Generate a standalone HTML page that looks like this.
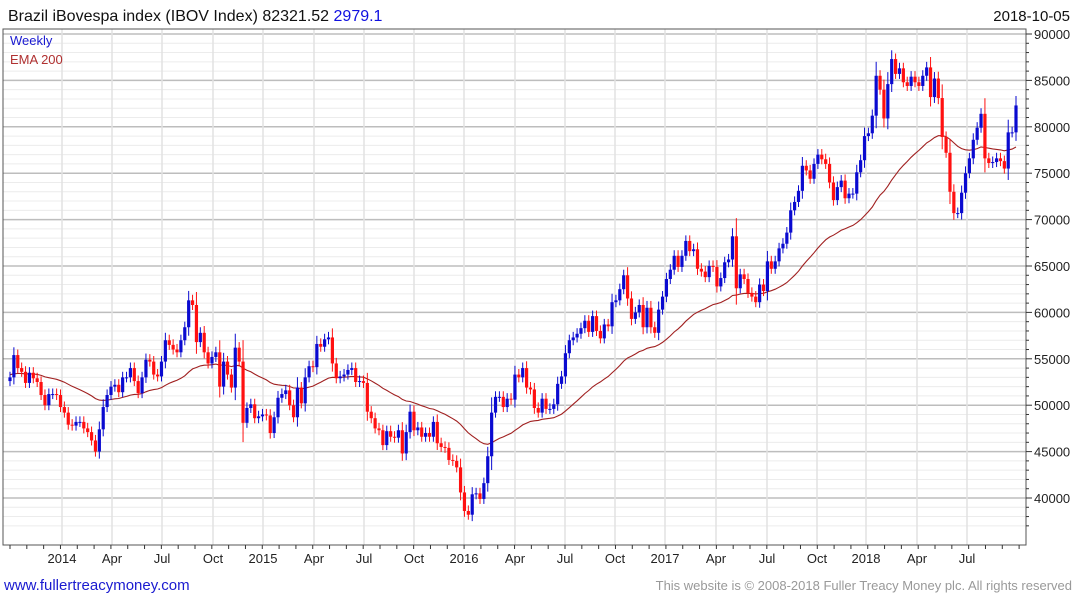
<!DOCTYPE html>
<html><head><meta charset="utf-8"><style>
body{margin:0;background:#fff;font-family:"Liberation Sans",sans-serif;}
svg{display:block}
</style></head><body>
<svg id="c" width="1075" height="600" viewBox="0 0 1075 600">
<text x="8" y="21" font-size="16" fill="#111">Brazil iBovespa index (IBOV Index) 82321.52 <tspan fill="#1010e0">2979.1</tspan></text>
<text x="1070" y="21" font-size="15" fill="#111" text-anchor="end">2018-10-05</text>
<g id="grid"></g>
<g id="ema"></g>
<g id="candles"></g>
<rect x="3" y="29" width="1023" height="516" fill="none" stroke="#555" stroke-width="1"/>
<text x="10" y="45" font-size="13" fill="#1a1ad0">Weekly</text>
<text x="10" y="64" font-size="13" fill="#b03030">EMA 200</text>
<g id="axes"></g>
<text x="4" y="590" font-size="15" fill="#1a1ad0">www.fullertreacymoney.com</text>
<text x="1072" y="590" font-size="13" fill="#999" text-anchor="end">This website is © 2008-2018 Fuller Treacy Money plc. All rights reserved</text>
</svg>
<script>
const closes=[53000,55400,54000,53600,52400,53500,52900,52500,51100,50000,51200,51200,51100,49800,49200,47900,47800,48200,48200,47500,47100,46200,45000,47400,49800,51100,52000,52200,51400,53000,53000,54000,52600,51300,53000,54900,54700,53300,53100,54700,57000,56500,56000,55700,57000,58400,61300,60800,56800,57800,55700,54500,55200,55700,52000,54700,53300,51900,56200,54700,48100,49700,50100,48600,48800,49000,48900,47000,48700,50800,51200,51600,50000,48700,51900,50200,53000,54200,54100,56600,56300,57100,57300,54500,52900,
53100,53300,53800,54000,52500,52600,52400,49300,48600,47500,47300,45700,47200,46600,46500,47300,44800,47100,49300,47300,47600,46600,47000,46600,48200,45900,45500,45400,44100,44000,43300,40600,38600,38200,40400,40500,39900,41600,44500,49200,50900,50900,49800,50700,50600,53300,53000,54000,51900,51700,49700,49200,50700,49600,49600,50100,52300,53100,55600,57000,57300,57700,58300,59100,57900,59600,58000,57200,58700,58500,61100,61300,62500,64000,61500,59300,60000,60800,58400,60500,58400,57800,60300,
61700,63600,64600,66100,64900,66100,67700,66600,66800,64700,64400,63800,65000,64900,62800,63700,65400,65700,68200,62600,64100,63600,62100,61700,61100,63000,62300,65500,64700,65500,66900,67400,68600,71000,71900,73100,75800,75300,74400,76000,77000,76500,76000,74000,72100,73500,74200,72300,72800,72800,75100,76400,79000,79300,81200,85500,84000,80900,84600,87300,85700,86300,84800,84400,85400,84800,84400,85500,86400,83200,85200,83100,78900,77200,73000,70700,70700,72900,75000,76600,78600,79900,81400,76600,76100,76200,76600,76300,75500,79400,79400,82300];
const yTicks=[40000,45000,50000,55000,60000,65000,70000,75000,80000,85000,90000];
const xLabels=["2014","Apr","Jul","Oct","2015","Apr","Jul","Oct","2016","Apr","Jul","Oct","2017","Apr","Jul","Oct","2018","Apr","Jul"];
const xLabelPos=[62,112,162,213,263,314,364,414,464,515,565,615,665,716,767,817,866,917,967];
const NS="http://www.w3.org/2000/svg";
const y=p=>34+(90000-p)/5000*46.4;
const N=closes.length, x0=10, x1=1016, step=(x1-x0)/(N-1);
const xi=i=>x0+i*step;
function mk(tag,attrs,parent){const e=document.createElementNS(NS,tag);for(const k in attrs)e.setAttribute(k,attrs[k]);parent.appendChild(e);return e;}
const grid=document.getElementById('grid'),axes=document.getElementById('axes');
for(let p=37000;p<=90000;p+=1000){const major=p%5000===0;
 const l=mk('line',{x1:3,x2:1026,y1:y(p),y2:y(p),stroke:major?'#bdbdbd':'#ececec','stroke-width':major?1.5:1},grid);
 
 
 const t=mk('line',{x1:1026,x2:major?1032:1029,y1:y(p),y2:y(p),stroke:'#333'},axes);
 
 }
yTicks.forEach(p=>{const t=mk('text',{x:1034,y:y(p)+5,'font-size':13,fill:'#222'},axes);t.textContent=p;
 
 });
xLabels.forEach((s,i)=>{const xx=xLabelPos[i];
 const g=mk('line',{x1:xx,x2:xx,y1:29,y2:545,stroke:'#e2e2e2','stroke-width':1.5},grid);
 
 
 const t=mk('text',{x:xx,y:563,'font-size':13,fill:'#222','text-anchor':'middle'},axes);t.textContent=s;
 
 });
for(let i=0;i<N;i+=4.33){const xx=x0+i*step;const t=mk('line',{x1:xx,x2:xx,y1:545,y2:549,stroke:'#333'},axes);
 
 }
// EMA
const alpha=2/41;let e=53300;const pts=[];
for(let i=0;i<N;i++){e=alpha*closes[i]+(1-alpha)*e;pts.push(xi(i).toFixed(1)+','+y(e).toFixed(1));}
const em=mk('polyline',{points:pts.join(' '),fill:'none',stroke:'#a02020','stroke-width':1.1},document.getElementById('ema'));


// candles
const cg=document.getElementById('candles');
for(let i=0;i<N;i++){const o=i?closes[i-1]:closes[0]-400,c=closes[i];const up=c>=o;const col=up?'#0a0ad0':'#ff1010';
 const w=Math.max(600,Math.abs(c-o)*0.35);const hi=Math.max(o,c)+w,lo=Math.min(o,c)-w*0.9;
 const g=mk('g',{},cg);
 
 
 mk('line',{x1:xi(i),x2:xi(i),y1:y(hi),y2:y(lo),stroke:col,'stroke-width':1},g);
 const top=y(Math.max(o,c)),bot=y(Math.min(o,c));
 mk('rect',{x:xi(i)-1.6,y:top,width:3.2,height:Math.max(1,bot-top),fill:col},g);}
</script>
</body></html>
